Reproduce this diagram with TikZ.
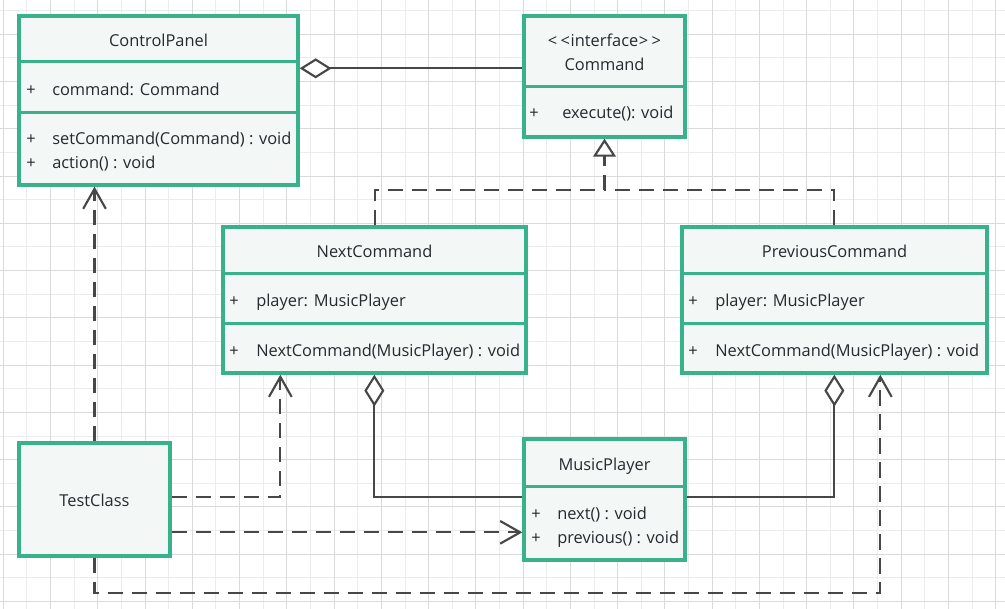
\documentclass[tikz,border=0pt]{standalone}
\usepackage{fontspec}
\setmainfont{Open Sans}
\usetikzlibrary{arrows.meta,fit,calc}
\definecolor{boxgreen}{HTML}{38B28A}
\definecolor{boxfill}{HTML}{F3F7F5}
\definecolor{linegray}{HTML}{474747}
\definecolor{txt}{HTML}{262A30}
\definecolor{gridmajor}{HTML}{DADADA}
\definecolor{gridminor}{HTML}{ECECEC}
\begin{document}
\begin{tikzpicture}[x=0.75pt,y=-0.75pt,
  umlbox/.style={draw=boxgreen, fill=boxfill, line width=2.5pt, inner sep=0pt, rectangle},
  sepline/.style={draw=boxgreen, line width=2.5pt},
  lbl/.style={font=\fontsize{12.3}{14}\selectfont, text=txt, inner sep=0pt},
  title/.style={lbl, anchor=base},
  member/.style={lbl, anchor=base west},
  conn/.style={draw=linegray, line width=1.6pt},
  dashline/.style={conn, dash pattern=on 11.5pt off 6.5pt},
  dep/.style={dashline, -{Straight Barb[length=15pt,width=17pt,line width=1.6pt]}},
  real/.style={dashline, -{Triangle[open, fill=white, length=13.5pt, width=17pt, line width=1.6pt]}},
  aggr/.style={conn, {Diamond[open, fill=white, length=24pt, width=15pt, line width=1.6pt]}-}
]
\useasboundingbox (0,0) rectangle (1005,609);
\fill[white] (0,0) rectangle (1005,609);
% grid
\foreach \i in {0,...,20} {
  \draw[gridminor, line width=0.75pt] ({26.93+47.26*\i},0) -- ({26.93+47.26*\i},609);
}
\foreach \i in {0,...,12} {
  \draw[gridminor, line width=0.75pt] (0,{10.7+47.26*\i}) -- (1005,{10.7+47.26*\i});
}
\foreach \i in {0,...,21} {
  \draw[gridmajor, line width=0.75pt] ({3.3+47.26*\i},0) -- ({3.3+47.26*\i},609);
}
\foreach \i in {0,...,12} {
  \draw[gridmajor, line width=0.75pt] (0,{34.3+47.26*\i}) -- (1005,{34.3+47.26*\i});
}

% boxes
\node[umlbox, fit={(19,16) (298,185)}] (cp) {};
\node[umlbox, fit={(524,16) (685,137)}] (cmd) {};
\node[umlbox, fit={(223,227) (526,373)}] (nc) {};
\node[umlbox, fit={(682,227) (987,373)}] (pc) {};
\node[umlbox, fit={(524,439) (685,560)}] (mp) {};
\node[umlbox, fit={(19,443) (170,556)}] (tc) {};

% separators
\draw[sepline] ($(cp.north west)+(0,47)$) -- ($(cp.north east)+(0,47)$);
\draw[sepline] ($(cp.north west)+(0,98)$) -- ($(cp.north east)+(0,98)$);
\draw[sepline] ($(cmd.north west)+(0,72)$) -- ($(cmd.north east)+(0,72)$);
\draw[sepline] ($(nc.north west)+(0,48)$) -- ($(nc.north east)+(0,48)$);
\draw[sepline] ($(nc.north west)+(0,98)$) -- ($(nc.north east)+(0,98)$);
\draw[sepline] ($(pc.north west)+(0,48)$) -- ($(pc.north east)+(0,48)$);
\draw[sepline] ($(pc.north west)+(0,98)$) -- ($(pc.north east)+(0,98)$);
\draw[sepline] ($(mp.north west)+(0,49)$) -- ($(mp.north east)+(0,49)$);

% texts: ControlPanel
\node[title] (cpT) at (158.5,46.5) {ControlPanel};
\node[member] (cpA1p) at (26,95.5) {+};
\node[member] (cpA1) at (52,95.5) {command: Command};
\node[member] (cpM1p) at (26,145) {+};
\node[member] (cpM1) at (52,145) {setCommand(Command) : void};
\node[member] (cpM2p) at (26,169) {+};
\node[member] (cpM2) at (52,169) {action() : void};
% Command
\node[title] (cmdS) at (604.5,46.5) {<\kern2.5pt<\kern0.5pt interface\kern0.5pt>\kern2.5pt>};
\node[title] (cmdT) at (604.5,71) {Command};
\node[member] (cmdM1p) at (529,119) {+};
\node[member] (cmdM1) at (562,119) {execute(): void};
% NextCommand
\node[title] (ncT) at (374.5,257.5) {NextCommand};
\node[member] (ncA1p) at (229,306.5) {+};
\node[member] (ncA1) at (256,306.5) {player: MusicPlayer};
\node[member] (ncM1p) at (229,356) {+};
\node[member] (ncM1) at (256,356) {NextCommand(MusicPlayer) : void};
% PreviousCommand
\node[title] (pcT) at (834.5,257.5) {PreviousCommand};
\node[member] (pcA1p) at (688,306.5) {+};
\node[member] (pcA1) at (715,306.5) {player: MusicPlayer};
\node[member] (pcM1p) at (688,356) {+};
\node[member] (pcM1) at (715,356) {NextCommand(MusicPlayer) : void};
% MusicPlayer
\node[title] (mpT) at (604.5,470) {MusicPlayer};
\node[member] (mpM1p) at (531,519) {+};
\node[member] (mpM1) at (557,519) {next() : void};
\node[member] (mpM2p) at (531,543) {+};
\node[member] (mpM2) at (557,543) {previous() : void};
% TestClass
\node[title] (tcT) at (94.5,506.5) {TestClass};

% connectors
\draw[aggr] ($(cp.north east)+(0,54)$) -- ($(cmd.north west)+(0,54)$);
\coordinate (rj) at ($(cmd.south)+(0,51)$);
\draw[real] ($(nc.north west)+(154,0)$) |- (rj) -- (cmd.south);
\draw[dashline] ($(pc.north west)+(154,0)$) |- (rj);
\draw[aggr] ($(nc.south west)+(153,0)$) |- ($(mp.north west)+(0,60)$);
\draw[aggr] ($(pc.south west)+(154,0)$) |- ($(mp.north east)+(0,60)$);
\draw[dep] (tc.north) -- (tc.north |- cp.south);
\draw[dep] ($(tc.north east)+(0,56)$) -| ($(nc.south west)+(59,0)$);
\draw[dep] ($(tc.north east)+(0,91)$) -- ($(mp.north west)+(0,95)$);
\draw[dep] (tc.south) -- ++(0,35) -| ($(pc.south west)+(200,0)$);
\end{tikzpicture}
\end{document}
